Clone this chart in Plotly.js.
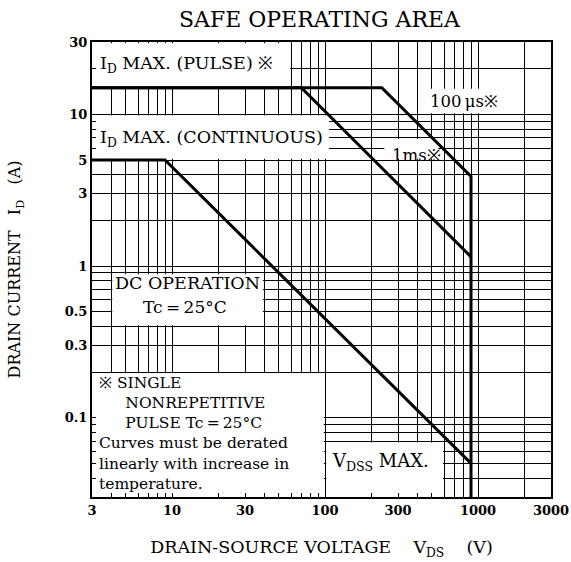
<!DOCTYPE html>
<html><head><meta charset="utf-8">
<script src="https://cdn.plot.ly/plotly-3.0.1.min.js"></script>
<style>html,body{margin:0;padding:0;background:#fff}#chart{width:571px;height:562px}</style>
</head><body><div id="chart"></div>
<script>
// ---- Data (V in volts, I in amperes) ----
const pulse100usV = [3, 235, 900, 900];
const pulse100usI = [15, 15, 3.9, 0.03];
const pulse1msV = [3, 70, 900];
const pulse1msI = [15, 15, 1.15];
const dcV = [3, 9, 900];
const dcI = [5, 5, 0.05];

const xTickLabels = ['3', '10', '30', '100', '300', '1000', '3000'];
const yTickLabels = ['0.1', '0.3', '0.5', '1', '3', '5', '10', '30'];
const xLimits = [3, 3000];
const yLimits = [0.03, 30];

// ---- log-paper grid (1..9 in every decade) ----
function logGrid(lo, hi) {
  const out = [];
  for (let e = Math.floor(Math.log10(lo)); e <= Math.ceil(Math.log10(hi)); e++) {
    for (let k = 1; k <= 9; k++) {
      const v = Number((k * Math.pow(10, e)).toPrecision(6));
      if (v >= lo - 1e-9 && v <= hi + 1e-9) out.push(v);
    }
  }
  return out;
}
const xGrid = logGrid(xLimits[0], xLimits[1]);
const yGrid = logGrid(yLimits[0], yLimits[1]);
const xText = xGrid.map(v => xTickLabels.includes(String(v)) ? String(v) : '');
const yText = yGrid.map(v => yTickLabels.includes(String(v)) ? String(v) : '');

const FONT = 'DejaVu Serif, serif';
const W = 571, H = 562, ML = 92, MR = 20, MT = 42, MB = 65;
const PW = W - ML - MR, PH = H - MT - MB;
const pxDecX = PW / (Math.log10(xLimits[1]) - Math.log10(xLimits[0]));
const pxDecY = PH / (Math.log10(yLimits[1]) - Math.log10(yLimits[0]));
// pixel -> paper helpers (for text placement)
const pxX = x => (x - ML) / PW;
const pxY = y => 1 - (y - MT) / PH;

// white label areas that hide the grid (data-space rectangles)
const blanks = [
  [3, 60, 15, 30],       // I_D MAX (PULSE)
  [3, 108, 5, 10],       // I_D MAX (CONTINUOUS)
  [470, 1400, 10, 15],   // 100 us
  [240, 560, 5, 7],      // 1 ms
  [4, 40, 0.4, 0.9],     // DC OPERATION
  [3, 100, 0.03, 0.2],   // note
  [100, 600, 0.03, 0.07] // VDSS MAX
];
const fx = Math.pow(10, 1.2 / pxDecX), fy = Math.pow(10, 1.2 / pxDecY);
const shapes = blanks.map(b => ({
  type: 'rect', xref: 'x', yref: 'y', layer: 'between',
  x0: b[0] * fx, x1: b[1] / fx, y0: b[2] * fy, y1: b[3] / fy,
  fillcolor: '#ffffff', line: {width: 0}
}));

const line = {color: '#000', width: 3};
const traces = [
  {x: pulse100usV, y: pulse100usI, mode: 'lines', line: line, name: '100 µs', hoverinfo: 'x+y'},
  {x: pulse1msV, y: pulse1msI, mode: 'lines', line: line, name: '1 ms', hoverinfo: 'x+y'},
  {x: dcV, y: dcI, mode: 'lines', line: line, name: 'DC', hoverinfo: 'x+y'}
];

function ann(text, x, y, size, xa, ya) {
  return {text: text, xref: 'paper', yref: 'paper', x: pxX(x), y: pxY(y),
    xanchor: xa || 'left', yanchor: ya || 'middle', showarrow: false,
    font: {family: FONT, size: size, color: '#000'}, align: 'left'};
}
const IND = '\u2003\u2002\u2009';
const noteText = ['※ SINGLE', IND + 'NONREPETITIVE', IND + 'PULSE Tc\u2009=\u200925°C',
  'Curves must be derated', 'linearly with increase in', 'temperature.'].join('<br>');
const annotations = [
  ann('I<sub>D</sub> MAX. (PULSE) ※', 98, 64, 17.5),
  ann('100\u2009μs※', 428, 102, 16.5),
  ann('I<sub>D</sub> MAX. (CONTINUOUS)', 98, 138, 17.5),
  ann('1ms※', 390, 155, 16.5),
  ann('DC OPERATION', 187, 283, 17.5, 'center'),
  ann('Tc\u2009=\u200925°C', 185, 307, 17, 'center'),
  ann(noteText, 97, 372, 15.5, 'left', 'top'),
  ann('V<sub>DSS</sub> MAX.', 330, 462, 18)
];

const axisCommon = {
  type: 'log', tickmode: 'array', showgrid: true, gridcolor: '#000', gridwidth: 1,
  showline: true, linecolor: '#000', linewidth: 2, mirror: true,
  ticks: 'inside', ticklen: 4, tickcolor: '#000', tickwidth: 1,
  zeroline: false, fixedrange: true,
  tickfont: {family: FONT, size: 13, color: '#000', weight: 700}
};

const layout = {
  width: W, height: H, margin: {l: ML, r: MR, t: MT, b: MB},
  paper_bgcolor: '#fff', plot_bgcolor: '#fff', showlegend: false,
  title: {text: 'SAFE OPERATING AREA', font: {family: FONT, size: 22, color: '#000'},
    x: 0.5 + (ML - MR) / (2 * W) - 2 / W, xanchor: 'center', y: 1 - 19 / H, yanchor: 'middle'},
  xaxis: Object.assign({}, axisCommon, {
    range: [Math.log10(xLimits[0]), Math.log10(xLimits[1])], tickvals: xGrid, ticktext: xText,
    title: {text: 'DRAIN-SOURCE VOLTAGE\u00a0\u00a0\u00a0\u00a0V<sub>DS</sub>\u00a0\u00a0\u00a0\u00a0(V)\u00a0\u00a0',
      font: {family: FONT, size: 17.5, color: '#000'}, standoff: 24}
  }),
  yaxis: Object.assign({}, axisCommon, {
    range: [Math.log10(yLimits[0]), Math.log10(yLimits[1])], tickvals: yGrid, ticktext: yText,
    title: {text: 'DRAIN CURRENT\u00a0\u00a0\u00a0I<sub>D</sub>\u00a0\u00a0\u00a0(A)',
      font: {family: FONT, size: 16, color: '#000'}, standoff: 40}
  }),
  shapes: shapes,
  annotations: annotations
};

Plotly.newPlot('chart', traces, layout, {displayModeBar: false, staticPlot: true});
</script>
</body></html>
